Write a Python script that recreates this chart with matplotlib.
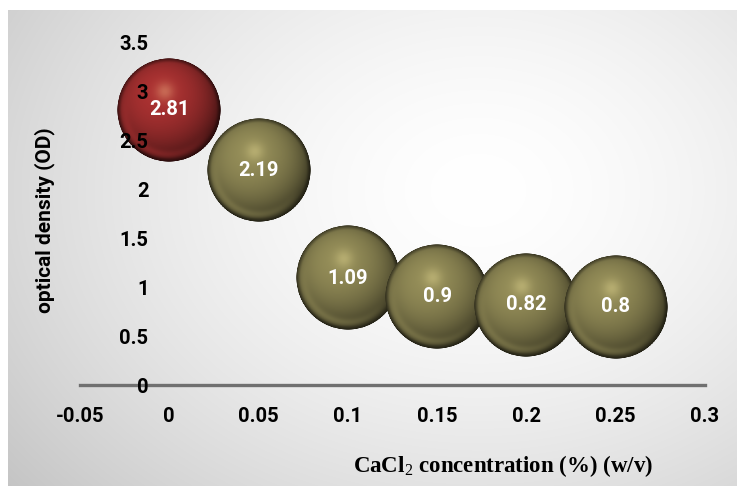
import numpy as np
import matplotlib
matplotlib.use("Agg")
import matplotlib.pyplot as plt
from matplotlib.offsetbox import OffsetImage, AnnotationBbox

# CaCl2 concentration (% w/v) versus optical density
concentration = [0.0, 0.05, 0.10, 0.15, 0.20, 0.25]
optical_density = [2.81, 2.19, 1.09, 0.90, 0.82, 0.80]
x_ticks = [-0.05, 0, 0.05, 0.1, 0.15, 0.2, 0.25, 0.3]
x_tick_labels = ["-0.05", "0", "0.05", "0.1", "0.15", "0.2", "0.25", "0.3"]
y_ticks = [0, 0.5, 1, 1.5, 2, 2.5, 3, 3.5]
y_tick_labels = ["0", "0.5", "1", "1.5", "2", "2.5", "3", "3.5"]

RED = np.array([172, 50, 50]) / 255.0
OLIVE = np.array([148, 141, 88]) / 255.0
DPI = 100
W, H = 737, 486
FONT = "Roboto"


def smoothstep(a, b, x):
    t = np.clip((x - a) / (b - a), 0, 1)
    return t * t * (3 - 2 * t)


def sphere_image(base, n=256):
    """Shaded glossy sphere as an RGBA array."""
    t = np.linspace(-1, 1, n)
    u, v = np.meshgrid(t, -t)
    r = np.sqrt(u ** 2 + v ** 2)
    nz = np.sqrt(np.clip(1 - r ** 2, 0, 1))
    L = np.array([-0.2, 0.35, 0.91])
    L = L / np.linalg.norm(L)
    diff = np.clip(u * L[0] + v * L[1] + nz * L[2], 0, 1)
    shade = 0.38 + 0.62 * diff
    shade = shade * (1 - 0.38 * smoothstep(0.90, 1.0, r))
    rgb = base[None, None, :] * shade[..., None]
    # soft light reflected onto the lower-left rim
    dvec = np.array([-0.45, -0.89])
    rim_w = np.clip(u * dvec[0] + v * dvec[1], 0, 1) / np.maximum(r, 1e-6)
    rim = np.exp(-((r - 0.86) ** 2) / 0.006) * np.clip(rim_w, 0, 1)
    rgb = rgb + 0.30 * rim[..., None] * (base[None, None, :] * 1.25 - rgb)
    # specular highlight
    spec = np.exp(-((u + 0.08) ** 2 + (v - 0.36) ** 2) / 0.03)
    tint = np.clip(base * 0.5 + np.array([0.55, 0.52, 0.36]), 0, 1)
    rgb = rgb + 0.5 * spec[..., None] * (tint[None, None, :] - rgb)
    rgb = np.clip(rgb, 0, 1)
    alpha = np.clip((1 - r) * n / 2.0, 0, 1)
    return np.dstack([rgb, alpha])


fig = plt.figure(figsize=(W / DPI, H / DPI), dpi=DPI)
fig.patch.set_facecolor("white")

# radial grey-to-white panel behind the chart
bg = fig.add_axes([8 / W, 0, 1 - 8 / W, 1 - 10 / H], zorder=0)
gy, gx = np.mgrid[0:476, 0:729]
d = np.sqrt(((gx - 470) / 470.0) ** 2 + ((gy - 180) / 360.0) ** 2)
g = 1.0 - 0.26 * (np.clip(d, 0, 1.4) / 1.4) ** 1.6
bg.imshow(np.dstack([g, g, g]), aspect="auto", interpolation="bilinear")
bg.axis("off")

ax = fig.add_axes([80 / W, (H - 385) / H, 625 / W, 343 / H], zorder=1)
ax.patch.set_alpha(0)
ax.set_xlim(-0.05, 0.3)
ax.set_ylim(0, 3.5)

for s in ("top", "right"):
    ax.spines[s].set_visible(False)
ax.spines["left"].set_position(("data", 0))
ax.spines["left"].set_visible(False)
ax.spines["bottom"].set_color("#707070")
ax.spines["bottom"].set_linewidth(2.4)
ax.spines["bottom"].set_zorder(1)

ax.set_xticks(x_ticks)
ax.set_xticklabels(x_tick_labels)
ax.set_yticks(y_ticks)
ax.set_yticklabels(y_tick_labels)
ax.tick_params(axis="both", length=0, labelsize=14.5)
ax.tick_params(axis="x", pad=16)
ax.tick_params(axis="y", pad=15)
for lab in ax.get_xticklabels() + ax.get_yticklabels():
    lab.set_fontfamily(FONT)
    lab.set_fontweight("bold")
    lab.set_color("black")
ax.xaxis.set_zorder(6)
ax.yaxis.set_zorder(6)

diam_px = 104
for i, (xv, yv) in enumerate(zip(concentration, optical_density)):
    img = sphere_image(RED if i == 0 else OLIVE)
    zoom = diam_px / (img.shape[1] * DPI / 72.0)
    ab = AnnotationBbox(OffsetImage(img, zoom=zoom), (xv, yv),
                        xycoords="data", frameon=False, pad=0,
                        box_alignment=(0.5, 0.5), zorder=3)
    ax.add_artist(ab)
    ax.text(xv, yv, f"{yv:g}", ha="center", va="center", color="white",
            fontsize=14.5, fontweight="bold", fontfamily=FONT, zorder=7)

fig.text(45 / W, 1 - 220 / H, "optical density (OD)", rotation=90,
         ha="center", va="center", fontsize=15, fontweight="bold",
         fontfamily=FONT)

plt.rcParams["mathtext.fontset"] = "custom"
plt.rcParams["mathtext.rm"] = "Liberation Serif"
fig.text(503 / W, 1 - 466 / H, r"CaCl$_{\mathrm{2}}$ concentration (%) (w/v)",
         ha="center", va="center", fontsize=16.5, fontweight="bold",
         fontfamily="Liberation Serif")

fig.savefig("out.png", dpi=DPI, facecolor=fig.get_facecolor())
